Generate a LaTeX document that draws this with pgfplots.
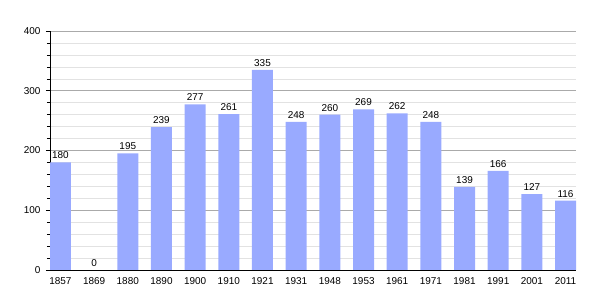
\documentclass[border=0pt]{standalone}
\usepackage{pgfplots}
\pgfplotsset{compat=1.18}
\usepackage{fontspec}
\setmainfont{Liberation Sans}
\definecolor{barblue}{HTML}{99AAFF}
\definecolor{majgrid}{HTML}{AAAAAA}
\definecolor{mingrid}{HTML}{E2E2E2}
\begin{document}
\fontsize{10}{12}\selectfont
\begin{tikzpicture}
\useasboundingbox (-50bp,-30bp) rectangle (555bp,270bp);
\begin{axis}[
  anchor=south west, at={(0,0)},
  scale only axis,
  width=526bp, height=239bp,
  xmin=-0.31, xmax=15.31,
  ymin=0, ymax=400,
  axis x line=bottom, axis y line=left,
  axis line style={-, black, line width=0.8pt},
  xtick={0,...,15},
  xticklabels={1857,1869,1880,1890,1900,1910,1921,1931,1948,1953,1961,1971,1981,1991,2001,2011},
  x tick style={draw=none},
  ytick={0,100,200,300,400},
  minor y tick num=4,
  y tick style={black, line width=0.6pt},
  major tick length=4bp, minor tick length=3bp,
  tick align=outside,
  ymajorgrids, yminorgrids,
  major grid style={majgrid, line width=0.6pt},
  minor grid style={mingrid, line width=0.6pt},
  tick label style={font=\fontsize{10}{12}\selectfont},
  /pgf/number format/assume math mode=true,
  xticklabel style={yshift=0bp},
  yticklabel style={xshift=-2bp},
  bar width=21bp,
  nodes near coords,
  every node near coord/.append style={font=\fontsize{10}{12}\selectfont, /pgf/number format/assume math mode=true},
]
\addplot[ybar, fill=barblue, draw=none] coordinates {
(0,180) (1,0) (2,195) (3,239) (4,277) (5,261) (6,335) (7,248)
(8,260) (9,269) (10,262) (11,248) (12,139) (13,166) (14,127) (15,116)
};
\end{axis}
\end{tikzpicture}
\end{document}
